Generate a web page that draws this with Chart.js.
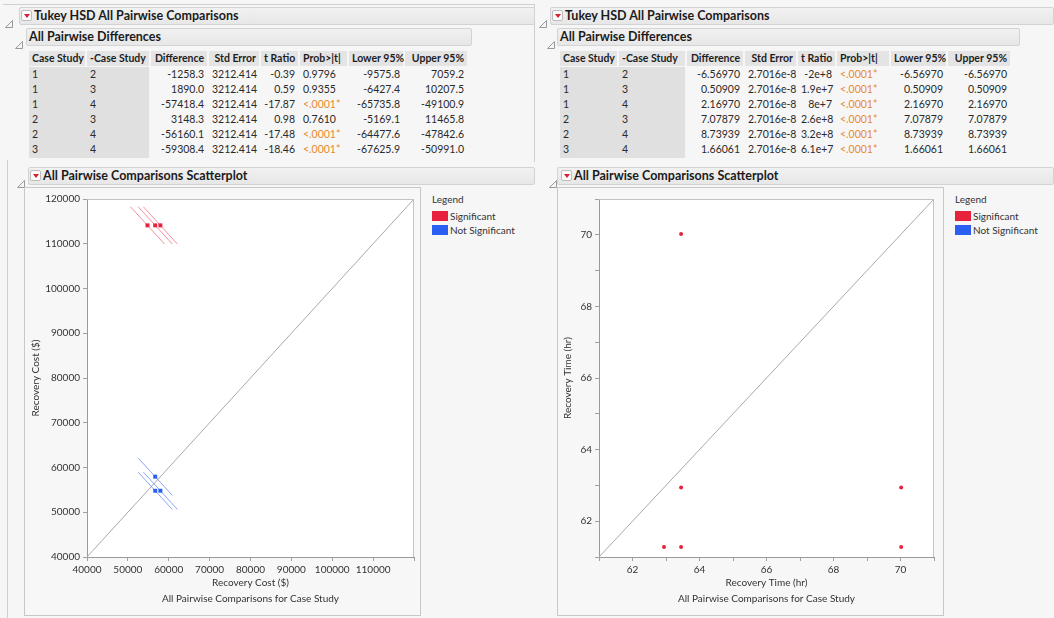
<!DOCTYPE html>
<html>
<head>
<meta charset="utf-8">
<script src="https://cdn.jsdelivr.net/npm/chart.js@4/dist/chart.umd.min.js"></script>
<style>
  html, body { margin: 0; padding: 0; }
  body {
    width: 1054px; height: 618px; position: relative; overflow: hidden;
    background: #f6f6f6; color: #222;
    font-family: Lato, "Noto Sans", "DejaVu Sans", sans-serif;
  }
  .abs { position: absolute; }
  .bar {
    position: absolute; box-sizing: border-box; height: 18px;
    background: linear-gradient(#f1f1f1, #e7e7e7);
    border: 1px solid #d3d3d3; border-radius: 2px;
  }
  .bar-title {
    position: absolute; font-weight: bold; font-size: 12.5px; line-height: 18px;
    white-space: nowrap; color: #1b1b1b;
  }
  .menu {
    position: absolute; box-sizing: border-box; width: 11px; height: 11px;
    background: #fbfbfb; border: 1px solid #bdbdbd; border-radius: 2px;
  }
  .menu::after {
    content: ""; position: absolute; left: 2px; top: 3px; width: 0; height: 0;
    border-left: 3px solid transparent; border-right: 3px solid transparent;
    border-top: 4px solid #d8202f;
  }
  .cell {
    position: absolute; box-sizing: border-box; font-size: 10.5px; white-space: nowrap;
    line-height: 15px; height: 15px; padding: 0 3px; color: #2a2a2a;
  }
  .hcell { font-weight: bold; background: #e4e4e4; color: #1e1e1e; }
  .lcell { background: #e0e0e0; }
  .orange { color: #e88a2e; }
  .frame {
    position: absolute; box-sizing: border-box; background: #f7f7f7;
    border: 1px solid #c8c8c8;
  }
  .legend-title { position: absolute; font-size: 10px; color: #333; }
  .swatch { position: absolute; width: 16px; height: 10px; }
  .legend-text { position: absolute; font-size: 10px; color: #333; line-height: 10px; white-space: nowrap; }
  .line { position: absolute; background: #cfcfcf; }
</style>
</head>
<body>
<div id="page"></div>
<div class="frame" style="left:24px;top:187px;width:397px;height:429px;"><canvas id="costChart" width="395" height="427"></canvas></div>
<div class="frame" style="left:557px;top:187px;width:387px;height:429px;"><canvas id="timeChart" width="385" height="427"></canvas></div>
<script>
// Pairs of Case Study levels compared by Tukey HSD
const caseStudy      = ['1', '1', '1', '2', '2', '3'];
const minusCaseStudy = ['2', '3', '4', '3', '4', '4'];

// Recovery Cost ($)
const costDifference = ['-1258.3', '1890.0', '-57418.4', '3148.3', '-56160.1', '-59308.4'];
const costStdError   = ['3212.414', '3212.414', '3212.414', '3212.414', '3212.414', '3212.414'];
const costTRatio     = ['-0.39', '0.59', '-17.87', '0.98', '-17.48', '-18.46'];
const costProb       = ['0.9796', '0.9355', '<.0001*', '0.7610', '<.0001*', '<.0001*'];
const costLower95    = ['-9575.8', '-6427.4', '-65735.8', '-5169.1', '-64477.6', '-67625.9'];
const costUpper95    = ['7059.2', '10207.5', '-49100.9', '11465.8', '-47842.6', '-50991.0'];
const costMeans      = [56690, 57948.3, 54800, 114108.4];   // mean recovery cost per case study
const costAxisRange  = [40000, 120000];
const costTickStep   = 10000;

// Recovery Time (hr)
const timeDifference = ['-6.56970', '0.50909', '2.16970', '7.07879', '8.73939', '1.66061'];
const timeStdError   = ['2.7016e-8', '2.7016e-8', '2.7016e-8', '2.7016e-8', '2.7016e-8', '2.7016e-8'];
const timeTRatio     = ['-2e+8', '1.9e+7', '8e+7', '2.6e+8', '3.2e+8', '6.1e+7'];
const timeProb       = ['<.0001*', '<.0001*', '<.0001*', '<.0001*', '<.0001*', '<.0001*'];
const timeLower95    = ['-6.56970', '0.50909', '2.16970', '7.07879', '8.73939', '1.66061'];
const timeUpper95    = ['-6.56970', '0.50909', '2.16970', '7.07879', '8.73939', '1.66061'];
const timeMeans      = [63.45, 70.0197, 62.9409, 61.2803];   // mean recovery time per case study
const timeAxisRange  = [61, 71];
const timeTickStep   = 1;

const tableHeader = ['Case Study', '-Case Study', 'Difference', 'Std Error', 't Ratio', 'Prob>|t|', 'Lower 95%', 'Upper 95%'];
const legendLabels = ['Significant', 'Not Significant'];

const RED = '#e8223d';
const BLUE = '#2a5ff2';
const RED_CI = 'rgba(238, 70, 95, 0.6)';
const BLUE_CI = 'rgba(60, 110, 245, 0.6)';

const page = document.getElementById('page');
function el(cls, style, text) {
  const d = document.createElement('div');
  d.className = cls;
  Object.assign(d.style, style);
  if (text !== undefined) d.textContent = text;
  page.appendChild(d);
  return d;
}
function disclosure(x, y) {
  const d = el('abs', { left: x + 'px', top: y + 'px', width: '8px', height: '8px' });
  d.innerHTML = '<svg width="8" height="8"><polygon points="7.5,0.5 7.5,7.5 0.5,7.5" fill="none" stroke="#9a9a9a" stroke-width="1"/></svg>';
}
function outlineBar(triX, barX, barW, y, menuX, textX, text) {
  disclosure(triX, y + 5);
  el('bar', { left: barX + 'px', top: y + 'px', width: barW + 'px' });
  if (menuX !== null) el('menu', { left: menuX + 'px', top: (y + 3) + 'px' });
  el('bar-title', { left: textX + 'px', top: y + 'px' }, text);
}

function buildTable(x0, widths, aligns, rows) {
  const top = 51, hh = 15, rh = 15;
  let x = x0;
  widths.forEach((w, c) => {
    el('cell hcell', { left: x + 'px', top: top + 'px', width: w + 'px',
      textAlign: aligns[c] === 'r' ? 'right' : 'left' }, tableHeader[c]);
    x += w + 2;
  });
  // grey block behind the level columns
  el('lcell abs', { left: x0 + 'px', top: (top + hh + 1) + 'px',
    width: (widths[0] + widths[1] + 2) + 'px', height: (rh * rows.length + 1) + 'px' });
  rows.forEach((row, r) => {
    let cx = x0;
    row.forEach((v, c) => {
      const cell = el('cell', { left: cx + 'px', top: (top + hh + 1 + r * rh) + 'px', width: widths[c] + 'px',
        textAlign: aligns[c] === 'r' ? 'right' : 'left' }, v);
      if (v.startsWith('<')) cell.classList.add('orange');
      cx += widths[c] + 2;
    });
  });
}

function tableRows(diff, se, t, p, lo, up) {
  return caseStudy.map((c, k) => [c, minusCaseStudy[k], diff[k], se[k], t[k], p[k], lo[k], up[k]]);
}

function legend(x) {
  el('legend-title', { left: x + 'px', top: '193px' }, 'Legend');
  el('swatch', { left: x + 'px', top: '211px', background: RED });
  el('swatch', { left: x + 'px', top: '225px', background: BLUE });
  el('legend-text', { left: (x + 18) + 'px', top: '211px' }, legendLabels[0]);
  el('legend-text', { left: (x + 18) + 'px', top: '225px' }, legendLabels[1]);
}

// panel outlines
el('line', { left: '3px', top: '4px', width: '532px', height: '1px' });
el('line', { left: '534px', top: '4px', width: '1px', height: '158px' });
el('line', { left: '7px', top: '160px', width: '1px', height: '458px' });

// left panel: Recovery Cost
outlineBar(5, 19, 516, 7, 21, 34, 'Tukey HSD All Pairwise Comparisons');
outlineBar(15, 26, 446, 28, null, 29, 'All Pairwise Differences');
buildTable(29, [56, 62, 56, 50, 37, 47, 54, 62], ['l', 'l', 'r', 'r', 'r', 'l', 'r', 'r'],
  tableRows(costDifference, costStdError, costTRatio, costProb, costLower95, costUpper95));
outlineBar(17, 28, 507, 167, 30, 43, 'All Pairwise Comparisons Scatterplot');
legend(432);

// right panel: Recovery Time
outlineBar(539, 550, 504, 7, 552, 565, 'Tukey HSD All Pairwise Comparisons');
outlineBar(547, 557, 463, 28, null, 560, 'All Pairwise Differences');
buildTable(560, [57, 66, 56, 51, 37, 52, 55, 62], ['l', 'l', 'r', 'r', 'r', 'l', 'r', 'r'],
  tableRows(timeDifference, timeStdError, timeTRatio, timeProb, timeLower95, timeUpper95));
outlineBar(549, 557, 497, 167, 561, 574, 'All Pairwise Comparisons Scatterplot');
legend(955);

// ---------- scatterplots ----------
Chart.defaults.font.family = 'Lato, "Noto Sans", sans-serif';
Chart.defaults.color = '#333';

const plotBackground = {
  id: 'plotBackground',
  beforeDraw(chart) {
    const { ctx, chartArea: a } = chart;
    ctx.save();
    ctx.fillStyle = '#ffffff';
    ctx.fillRect(a.left, a.top, a.right - a.left, a.bottom - a.top);
    ctx.restore();
  },
  afterDatasetsDraw(chart) {
    const { ctx, chartArea: a } = chart;
    ctx.save();
    ctx.strokeStyle = '#c4c4c4';
    ctx.lineWidth = 1;
    ctx.beginPath();
    ctx.moveTo(a.left, a.top + 0.5);
    ctx.lineTo(a.right - 0.5, a.top + 0.5);
    ctx.lineTo(a.right - 0.5, a.bottom);
    ctx.stroke();
    ctx.restore();
  }
};

function pairDatasets(means, diff, lower, upper, prob, pointStyle, radius) {
  const sets = [];
  const sigPts = [], nsPts = [];
  caseStudy.forEach((c, k) => {
    const x = means[+c - 1];
    const y = means[+minusCaseStudy[k] - 1];
    const sig = prob[k].includes('*');
    (sig ? sigPts : nsPts).push({ x, y });
    // confidence interval for the difference, drawn along x - y = const direction
    const d = parseFloat(diff[k]);
    const t1 = (parseFloat(lower[k]) - d) / 2;
    const t2 = (parseFloat(upper[k]) - d) / 2;
    sets.push({
      data: [{ x: x + t1, y: y - t1 }, { x: x + t2, y: y - t2 }],
      showLine: true, pointRadius: 0, borderWidth: 1,
      borderColor: sig ? RED_CI : BLUE_CI, order: 2
    });
  });
  sets.push({ data: sigPts, pointStyle, pointRadius: radius, backgroundColor: RED, borderColor: RED, borderWidth: 0, order: 1 });
  sets.push({ data: nsPts, pointStyle, pointRadius: radius, backgroundColor: BLUE, borderColor: BLUE, borderWidth: 0, order: 1 });
  return sets;
}

function makeChart(id, cfg) {
  const range = cfg.range;
  const datasets = pairDatasets(cfg.means, cfg.diff, cfg.lower, cfg.upper, cfg.prob, cfg.pointStyle, cfg.radius);
  // y = x reference line across the plot
  datasets.push({
    data: [{ x: range[0], y: range[0] }, { x: range[1], y: range[1] }],
    showLine: true, pointRadius: 0, borderWidth: 1, borderColor: '#a9a9a9', order: 3
  });
  const tickFont = { size: 10 };
  const grid = { drawOnChartArea: false, drawTicks: true, tickLength: 4, color: '#a0a0a0' };
  return new Chart(document.getElementById(id), {
    type: 'scatter',
    data: { datasets },
    plugins: [plotBackground],
    options: {
      responsive: false, animation: false,
      layout: { padding: { left: 0, top: 11, right: cfg.rightPad, bottom: 0 } },
      plugins: { legend: { display: false }, tooltip: { enabled: false } },
      scales: {
        x: {
          type: 'linear', min: range[0], max: range[1],
          grid, border: { color: '#9a9a9a' },
          ticks: { stepSize: cfg.step, font: tickFont, padding: 3, maxRotation: 0, autoSkip: false,
            callback: cfg.xLabel },
          title: { display: true, text: [cfg.title, 'All Pairwise Comparisons for Case Study'],
            font: { size: 10, lineHeight: 1.6 }, padding: { top: 0, bottom: 8 }, color: '#333' },
          afterFit(s) { s.height = 58; }
        },
        y: {
          type: 'linear', min: range[0], max: range[1],
          grid, border: { color: '#9a9a9a' },
          ticks: { stepSize: cfg.step, font: tickFont, padding: 3, autoSkip: false, callback: cfg.yLabel },
          title: { display: true, text: cfg.title, font: { size: 10, lineHeight: 1.2 },
            padding: { top: cfg.yTitlePad, bottom: 0 }, color: '#333' },
          afterFit(s) { s.width = cfg.yWidth; }
        }
      }
    }
  });
}

makeChart('costChart', {
  range: costAxisRange, step: costTickStep, means: costMeans,
  diff: costDifference, lower: costLower95, upper: costUpper95, prob: costProb,
  pointStyle: 'rect', radius: 2.8, title: 'Recovery Cost ($)',
  rightPad: 6, yWidth: 62, yTitlePad: 5,
  xLabel: v => (v === costAxisRange[1] ? '' : String(v)),
  yLabel: v => String(v)
});

makeChart('timeChart', {
  range: timeAxisRange, step: timeTickStep, means: timeMeans,
  diff: timeDifference, lower: timeLower95, upper: timeUpper95, prob: timeProb,
  pointStyle: 'circle', radius: 2, title: 'Recovery Time (hr)',
  rightPad: 9, yWidth: 41, yTitlePad: 4,
  xLabel: v => (v % 2 === 0 ? String(v) : ''),
  yLabel: v => (v % 2 === 0 ? String(v) : '')
});
</script>
</body>
</html>
